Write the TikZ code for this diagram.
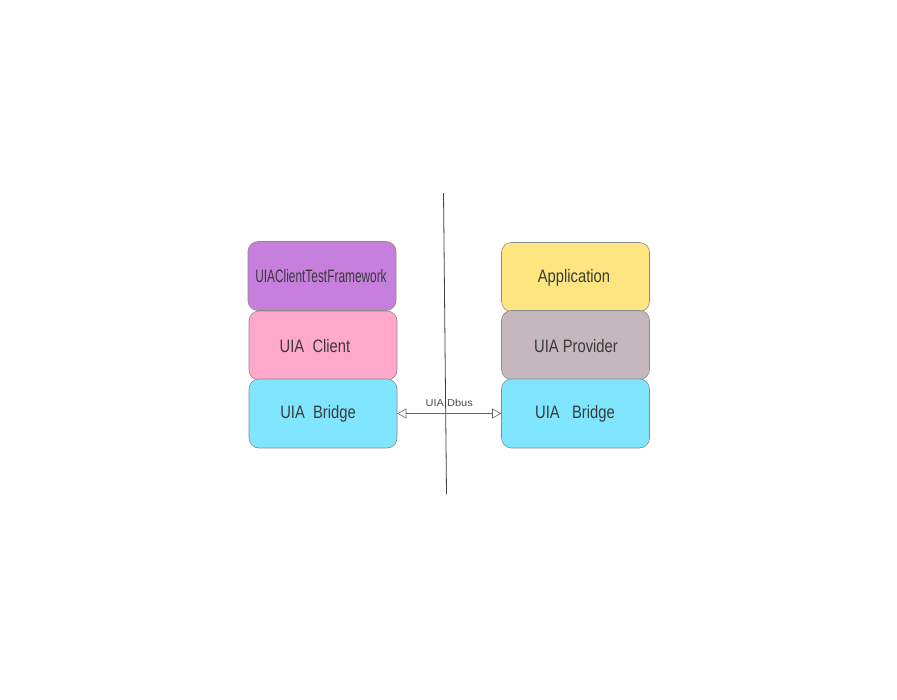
\documentclass[tikz,border=0pt]{standalone}
\usepackage{fontspec}
\setmainfont{Liberation Sans}
\newfontfamily\narrowA[FakeStretch=0.82]{Liberation Sans}
\newfontfamily\narrowB[FakeStretch=0.66]{Liberation Sans}
\newfontfamily\narrowC[FakeStretch=1.1]{Liberation Sans}
\usetikzlibrary{arrows.meta}
\definecolor{cpurple}{HTML}{C67FDC}
\definecolor{cpink}{HTML}{FFA8C9}
\definecolor{ccyan}{HTML}{80E5FE}
\definecolor{cyellow}{HTML}{FEE57F}
\definecolor{cmauve}{HTML}{C4B7BE}
\definecolor{cborder}{HTML}{8A8A8A}
\definecolor{ctext}{HTML}{3A3A3A}
\begin{document}
\begin{tikzpicture}[x=1pt,y=-1pt,
  layer/.style={draw=cborder,line width=0.6pt,rounded corners=10pt,minimum width=148pt,minimum height=69pt,inner sep=0pt},
  lbl/.style={text=ctext,font=\narrowA\fontsize{18}{21}\selectfont},
  conn/.style={draw=gray!80!black,line width=0.6pt,{Triangle[open,length=9pt,width=10pt]}-{Triangle[open,length=9pt,width=10pt]}}
]
\useasboundingbox (0,0) rectangle (897,699);
% left stack
\node[layer,fill=cpurple] (ctf) at (322,276) {};
\node[layer,fill=cpink] (cli) at (323,345.5) {};
\node[layer,fill=ccyan] (lbr) at (323,413.5) {};
% right stack
\node[layer,fill=cyellow] (app) at (575.5,277) {};
\node[layer,fill=cmauve] (prv) at (575.5,345) {};
\node[layer,fill=ccyan] (rbr) at (575.5,413.5) {};
% labels
\node[lbl,font=\narrowB\fontsize{18}{21}\selectfont] (tctf) at (321,276) {UIAClientTestFramework};
\node[lbl] (tcli) at (315,346) {UIA\ \ Client};
\node[lbl] (tlbr) at (318,414) {UIA\ \ Bridge};
\node[lbl] (tapp) at (574,278) {Application};
\node[lbl] (tprv) at (576,346) {UIA Provider};
\node[lbl] (trbr) at (575,414) {UIA\ \ \ Bridge};
% divider
\coordinate (dtop) at (443.5,193);
\coordinate (dbot) at (446.5,494);
\draw[line width=0.8pt,draw=black!75] (dtop) -- (dbot);
% connector
\draw[conn] (lbr.east) -- (rbr.west) node[midway,above=3pt,text=black!70,font=\narrowC\fontsize{10}{12}\selectfont] (dbus) {UIA Dbus};
\end{tikzpicture}
\end{document}
